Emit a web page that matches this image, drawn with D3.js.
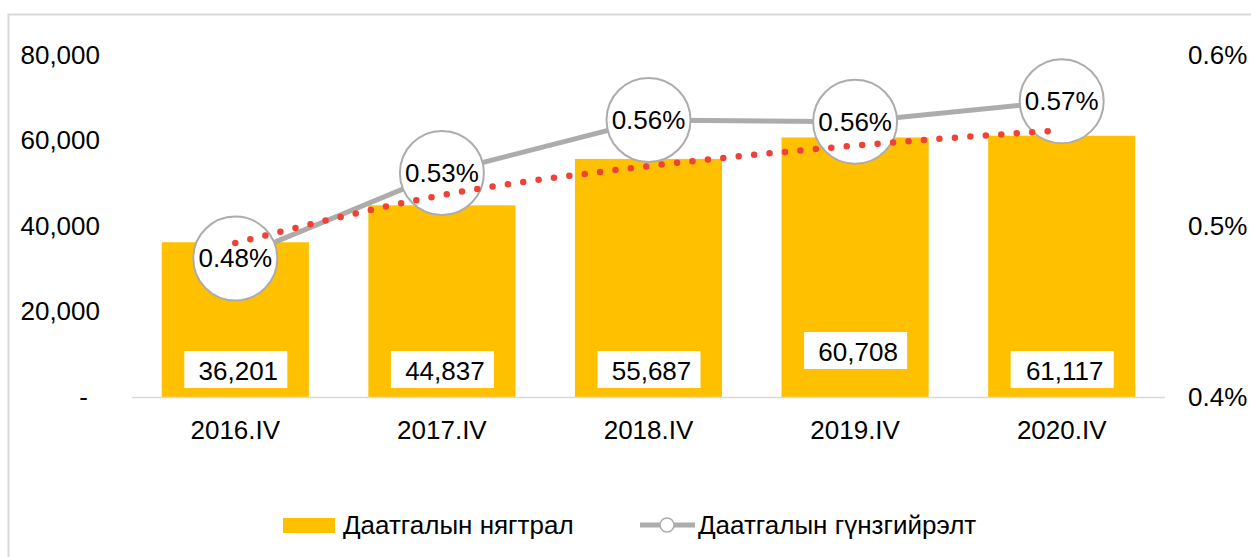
<!DOCTYPE html>
<html lang="mn">
<head>
    <meta charset="utf-8">
    <title>Даатгалын нягтрал ба гүнзгийрэлт</title>
    <script src="https://d3js.org/d3.v7.min.js" charset="utf-8"></script>
    <style>
        body { margin: 0; background: #fff; }
        svg { font-family: "Liberation Sans", Arial, sans-serif; }
        .axis path, .axis line { display: none; }
        .axis text { font-size: 26px; fill: #000; font-family: "Liberation Sans", Arial, sans-serif; }
    </style>
</head>
<body>
<script>

    var categories = ["2016.IV", "2017.IV", "2018.IV", "2019.IV", "2020.IV"]
    var density = [36201, 44837, 55687, 60708, 61117]          // Даатгалын нягтрал
    var depth = [0.481, 0.531, 0.562, 0.561, 0.573]            // Даатгалын гүнзгийрэлт, %
    var depthLabels = ["0.48%", "0.53%", "0.56%", "0.56%", "0.57%"]
    var trend = [0.490, 0.518, 0.535, 0.547, 0.556]            // trendline
    var leftTicks = [0, 20000, 40000, 60000, 80000]
    var rightTicks = [0.4, 0.5, 0.6]
    var legendNames = ["Даатгалын нягтрал", "Даатгалын гүнзгийрэлт"]

    var w = 1251, h = 557
    var plotLeft = 132, plotRight = 1165, plotTop = 55, plotBottom = 397

    var svg = d3.select("body").append("svg").attr("width", w).attr("height", h)

    // chart frame
    svg.append("rect").attr("x", 8.5).attr("y", 14.5).attr("width", 1300).attr("height", 600)
        .attr("fill", "none").attr("stroke", "#d9d9d9").attr("stroke-width", 2)

    var x = d3.scaleBand().domain(categories).range([plotLeft, plotRight]).paddingInner(0.288).paddingOuter(0.144)
    var yL = d3.scaleLinear().domain([0, 80000]).range([plotBottom, plotTop])
    var yR = d3.scaleLinear().domain([0.4, 0.6]).range([plotBottom, plotTop])

    var fmt = d3.format(",")

    var yAxisL = d3.axisLeft(yL).tickValues(leftTicks).tickSize(0).tickPadding(0)
        .tickFormat(function (d) { return d === 0 ? "-" : fmt(d) })
    var gL = svg.append("g").attr("class", "axis").attr("transform", "translate(100,0)").call(yAxisL)
    gL.selectAll("text").filter(function (d) { return d === 0 }).attr("dx", -12)

    var yAxisR = d3.axisRight(yR).tickValues(rightTicks).tickSize(0).tickPadding(0)
        .tickFormat(function (d) { return d3.format(".1f")(d) + "%" })
    svg.append("g").attr("class", "axis").attr("transform", "translate(1188,0)").call(yAxisR)

    var xAxis = d3.axisBottom(x).tickSize(0).tickPadding(24)
    svg.append("g").attr("class", "axis").attr("transform", "translate(0," + plotBottom + ")").call(xAxis)

    // bars
    svg.append("g").selectAll("rect").data(density).join("rect")
        .attr("x", function (d, i) { return x(categories[i]) })
        .attr("y", function (d) { return yL(d) })
        .attr("width", x.bandwidth())
        .attr("height", function (d) { return plotBottom - yL(d) })
        .attr("fill", "#ffc000")

    svg.append("line").attr("x1", plotLeft).attr("x2", plotRight).attr("y1", plotBottom + 0.5).attr("y2", plotBottom + 0.5)
        .attr("stroke", "#d9d9d9").attr("stroke-width", 1.5)

    // bar value boxes
    var boxY = [370, 370, 370, 351, 370]
    var boxes = svg.append("g").selectAll("g").data(density).join("g")
        .attr("transform", function (d, i) { return "translate(" + (x(categories[i]) + x.bandwidth() / 2) + "," + boxY[i] + ")" })
    boxes.append("rect").attr("x", -51).attr("y", -19).attr("width", 103).attr("height", 37).attr("fill", "#fff")
    boxes.append("text").attr("x", 3).attr("y", 10).attr("text-anchor", "middle")
        .attr("font-size", 26).text(function (d) { return fmt(d) })

    // depth line
    var cx = function (d, i) { return x(categories[i]) + x.bandwidth() / 2 }
    var line = d3.line().x(cx).y(function (d) { return yR(d) })
    svg.append("path").datum(depth).attr("d", line).attr("fill", "none")
        .attr("stroke", "#aeabab").attr("stroke-width", 5)

    var marks = svg.append("g").selectAll("g").data(depth).join("g")
        .attr("transform", function (d, i) { return "translate(" + cx(d, i) + "," + yR(d) + ")" })
    marks.append("circle").attr("r", 42).attr("fill", "#fff").attr("stroke", "#aeabab").attr("stroke-width", 2)
    marks.append("text").attr("text-anchor", "middle").attr("y", 9).attr("font-size", 26)
        .text(function (d, i) { return depthLabels[i] })

    // trendline (dotted)
    var trendLine = d3.line().x(cx).y(function (d) { return yR(d) }).curve(d3.curveMonotoneX)
    svg.append("path").datum(trend).attr("d", trendLine).attr("fill", "none")
        .attr("stroke", "#ef4136").attr("stroke-width", 6.5).attr("stroke-linecap", "round")
        .attr("stroke-dasharray", "0 15.5")

    // legend
    var lg = svg.append("g").attr("font-size", 26)
    lg.append("rect").attr("x", 283).attr("y", 518).attr("width", 52).attr("height", 15).attr("fill", "#ffc000")
    lg.append("text").attr("x", 343).attr("y", 534).text(legendNames[0])
    lg.append("line").attr("x1", 640).attr("x2", 695).attr("y1", 525).attr("y2", 525)
        .attr("stroke", "#aeabab").attr("stroke-width", 5)
    lg.append("circle").attr("cx", 667).attr("cy", 525).attr("r", 7).attr("fill", "#fff")
        .attr("stroke", "#aeabab").attr("stroke-width", 1.5)
    lg.append("text").attr("x", 698).attr("y", 534).text(legendNames[1])

</script>
</body>
</html>
